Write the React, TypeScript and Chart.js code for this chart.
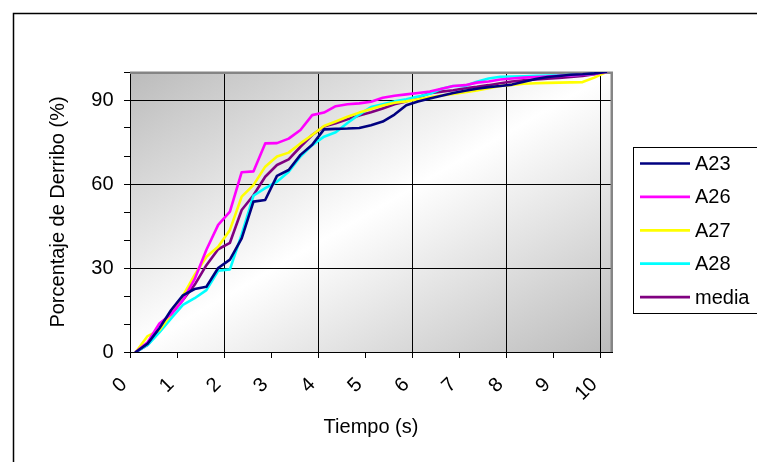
import React, { useEffect, useRef } from 'react';
import { Chart, registerables } from 'chart.js';

Chart.register(...registerables);

// Sample times (s): one sample every 0.25 s
const TIMES = [
  0, 0.25, 0.5, 0.75, 1, 1.25, 1.5, 1.75, 2, 2.25, 2.5, 2.75, 3, 3.25, 3.5, 3.75,
  4, 4.25, 4.5, 4.75, 5, 5.25, 5.5, 5.75, 6, 6.25, 6.5, 6.75, 7, 7.25, 7.5, 7.75,
  8, 8.25, 8.5, 8.75, 9, 9.25, 9.5, 9.75, 10,
];

// Cumulative knock-down percentage per test
const A23 = [
  0, 3, 8.5, 15, 20.2, 22.5, 23.3, 30, 33, 40.6, 53.7, 54.3, 62.9, 65, 70.4, 74,
  79.5, 79.7, 79.8, 80, 81, 82.3, 84.8, 88.1, 89.5, 90.5, 91.5, 92.5, 93.3, 94, 94.6,
  95, 95.5, 96.5, 97.5, 98.2, 98.6, 99, 99.2, 99.5, 100,
];
const A26 = [
  0, 3.5, 10.2, 13.5, 18.5, 26, 36.5, 45.4, 50.1, 64.2, 64.5, 74.5, 74.6, 76.2, 79.3, 84.6,
  85.5, 87.8, 88.5, 88.8, 89.4, 90.8, 91.5, 92, 92.5, 93, 94, 95, 95.3, 96.2, 96.6,
  97.3, 97.7, 98, 98.2, 98.4, 98.6, 98.8, 99, 99.3, 100,
];
const A27 = [
  0, 5.7, 7.8, 13.5, 20, 27.5, 34, 37.6, 43.6, 55.5, 59.6, 66.2, 69.8, 71.2, 74.5, 77.5,
  80.7, 82.3, 84, 85.5, 86.8, 88, 89, 89.5, 90.3, 91, 91.6, 92.2, 92.8, 93.4, 94.2,
  95, 95.4, 95.8, 96, 96.1, 96.2, 96.3, 96.4, 98, 100,
];
const A28 = [
  0, 2.5, 7, 12, 16.8, 19.2, 22.1, 29, 29.5, 42, 55.8, 58.5, 60.8, 64.4, 69.8, 73.9,
  76.9, 78.5, 81.8, 84.8, 87.5, 88.5, 89.5, 90.3, 91.2, 92.2, 94, 95, 95, 96.5, 97.7,
  98.3, 98.4, 98.5, 98.6, 98.7, 98.8, 98.9, 99, 99.4, 100,
];
const MEDIA = [
  0, 2.5, 8, 13.5, 18.6, 24, 31, 36.7, 39, 50.7, 56, 62.6, 66.8, 68.8, 73.3, 77.5,
  80.5, 81.7, 83.1, 84.5, 85.6, 87, 88.5, 89.5, 91, 92.4, 93, 93.5, 94.2, 94.7, 95.3,
  96, 96.6, 97, 97.3, 97.6, 97.9, 98.2, 98.6, 99.2, 100,
];

const SERIES_LABELS = ['A23', 'A26', 'A27', 'A28', 'media'];
const SERIES_VALUES = [A23, A26, A27, A28, MEDIA];
const SERIES_COLORS = ['#000080', '#FF00FF', '#FFFF00', '#00FFFF', '#800080'];

const X_TICKS = [0, 1, 2, 3, 4, 5, 6, 7, 8, 9, 10];
const Y_LABELED = [0, 30, 60, 90];
const Y_GRID = [30, 60, 90];

// Each sample sits in the middle of its 0.25 s slot, as on a category axis
const SLOT = 0.25;

const FONT = "'Liberation Sans', Arial, Helvetica, sans-serif";

const plotBackground = {
  id: 'plotBackground',
  beforeDraw(chart: any) {
    const { ctx, chartArea: a } = chart;
    const w = a.right - a.left;
    const h = a.bottom - a.top;
    const cx = (a.left + a.right) / 2;
    const cy = (a.top + a.bottom) / 2;
    const k = (w * h) / (w * w + h * h);
    const g = ctx.createLinearGradient(cx - h * k, cy - w * k, cx + h * k, cy + w * k);
    g.addColorStop(0, '#bbbbbb');
    g.addColorStop(0.5, '#ffffff');
    g.addColorStop(1, '#bbbbbb');
    ctx.save();
    ctx.fillStyle = g;
    ctx.fillRect(a.left, a.top, w, h);
    ctx.restore();
  },
};

const plotFrame = {
  id: 'plotFrame',
  beforeDatasetsDraw(chart: any) {
    const { ctx, chartArea: a } = chart;
    ctx.save();
    ctx.strokeStyle = '#858585';
    ctx.lineWidth = 2.5;
    ctx.beginPath();
    ctx.moveTo(a.left, a.top + 0.75);
    ctx.lineTo(a.right - 0.25, a.top + 0.75);
    ctx.lineTo(a.right - 0.25, a.bottom);
    ctx.stroke();
    ctx.restore();
  },
};

const chartDecor = {
  id: 'chartDecor',
  afterDraw(chart: any) {
    const { ctx } = chart;
    ctx.save();
    // outer chart border
    ctx.strokeStyle = '#000';
    ctx.lineWidth = 1.5;
    ctx.beginPath();
    ctx.moveTo(13.5, chart.height);
    ctx.lineTo(13.5, 13.5);
    ctx.lineTo(chart.width, 13.5);
    ctx.stroke();

    // legend box
    const bx = 633.5;
    const by = 147.5;
    const bh = 166;
    ctx.fillStyle = '#fff';
    ctx.fillRect(bx, by, chart.width - bx + 10, bh);
    ctx.lineWidth = 1;
    ctx.strokeStyle = '#000';
    ctx.strokeRect(bx, by, chart.width - bx + 10, bh);

    ctx.font = `20px ${FONT}`;
    ctx.textBaseline = 'middle';
    ctx.textAlign = 'left';
    chart.data.datasets.forEach((ds: any, i: number) => {
      const y = 163.5 + i * 33.4;
      ctx.strokeStyle = ds.borderColor;
      ctx.lineWidth = 2.7;
      ctx.beginPath();
      ctx.moveTo(640, y);
      ctx.lineTo(690, y);
      ctx.stroke();
      ctx.fillStyle = '#000';
      ctx.fillText(ds.label, 695, y + 1);
    });
    ctx.restore();
  },
};

export default function App() {
  const canvasRef = useRef<HTMLCanvasElement>(null);

  useEffect(() => {
    const canvas = canvasRef.current;
    if (!canvas) return;

    Chart.defaults.font.family = FONT;
    Chart.defaults.font.size = 20;
    Chart.defaults.color = '#000';

    const chart = new Chart(canvas, {
      type: 'line',
      data: {
        datasets: SERIES_LABELS.map((label, s) => ({
          label,
          data: SERIES_VALUES[s].map((v, i) => ({ x: TIMES[i] + SLOT / 2, y: v })),
          borderColor: SERIES_COLORS[s],
          backgroundColor: SERIES_COLORS[s],
          borderWidth: 2.6,
          pointRadius: 0,
          tension: 0,
          fill: false,
          borderJoinStyle: 'round',
          borderCapStyle: 'round',
        })),
      },
      options: {
        responsive: false,
        animation: false,
        events: [],
        layout: { padding: { left: 14, top: 72, right: 145, bottom: 0 } },
        plugins: {
          legend: { display: false },
          tooltip: { enabled: false },
        },
        scales: {
          x: {
            type: 'linear',
            min: 0,
            max: TIMES[TIMES.length - 1] + SLOT,
            afterBuildTicks: (scale: any) => {
              scale.ticks = X_TICKS.map((v) => ({ value: v }));
            },
            afterFit: (scale: any) => {
              scale.height = 110;
            },
            grid: {
              color: (c: any) =>
                c.tick && c.tick.value % 2 === 0 && c.tick.value !== 0 ? '#000' : 'rgba(0,0,0,0)',
              tickColor: '#000',
              tickLength: 6,
              lineWidth: 1,
            },
            border: { color: '#000', width: 1 },
            ticks: {
              autoSkip: false,
              minRotation: 45,
              maxRotation: 45,
              padding: 15,
              labelOffset: -6,
              color: '#000',
              font: { size: 20 },
              callback: (v: any) => String(v),
            },
            title: {
              display: true,
              text: 'Tiempo (s)',
              color: '#000',
              font: { size: 20 },
              padding: { top: 0, bottom: 23 },
            },
          },
          y: {
            min: 0,
            max: 100,
            afterFit: (scale: any) => {
              scale.width = 116;
            },
            grid: {
              color: (c: any) => (c.tick && Y_GRID.includes(c.tick.value) ? '#000' : 'rgba(0,0,0,0)'),
              tickColor: '#000',
              tickLength: 6,
              lineWidth: 1,
            },
            border: { color: '#000', width: 1 },
            ticks: {
              stepSize: 10,
              padding: 10.5,
              color: '#000',
              font: { size: 20 },
              callback: (v: any) => (Y_LABELED.includes(v) ? String(v) : ''),
            },
            title: {
              display: true,
              text: 'Porcentaje de Derribo (%)',
              color: '#000',
              font: { size: 20 },
              padding: { top: 32, bottom: 0 },
            },
          },
        },
      },
      plugins: [plotBackground, plotFrame, chartDecor],
    } as any);

    return () => chart.destroy();
  }, []);

  return (
    <div style={{ position: 'fixed', left: 0, top: 0, width: 757, height: 462, background: '#fff' }}>
      <canvas ref={canvasRef} width={757} height={462} style={{ display: 'block', width: 757, height: 462 }} />
    </div>
  );
}
